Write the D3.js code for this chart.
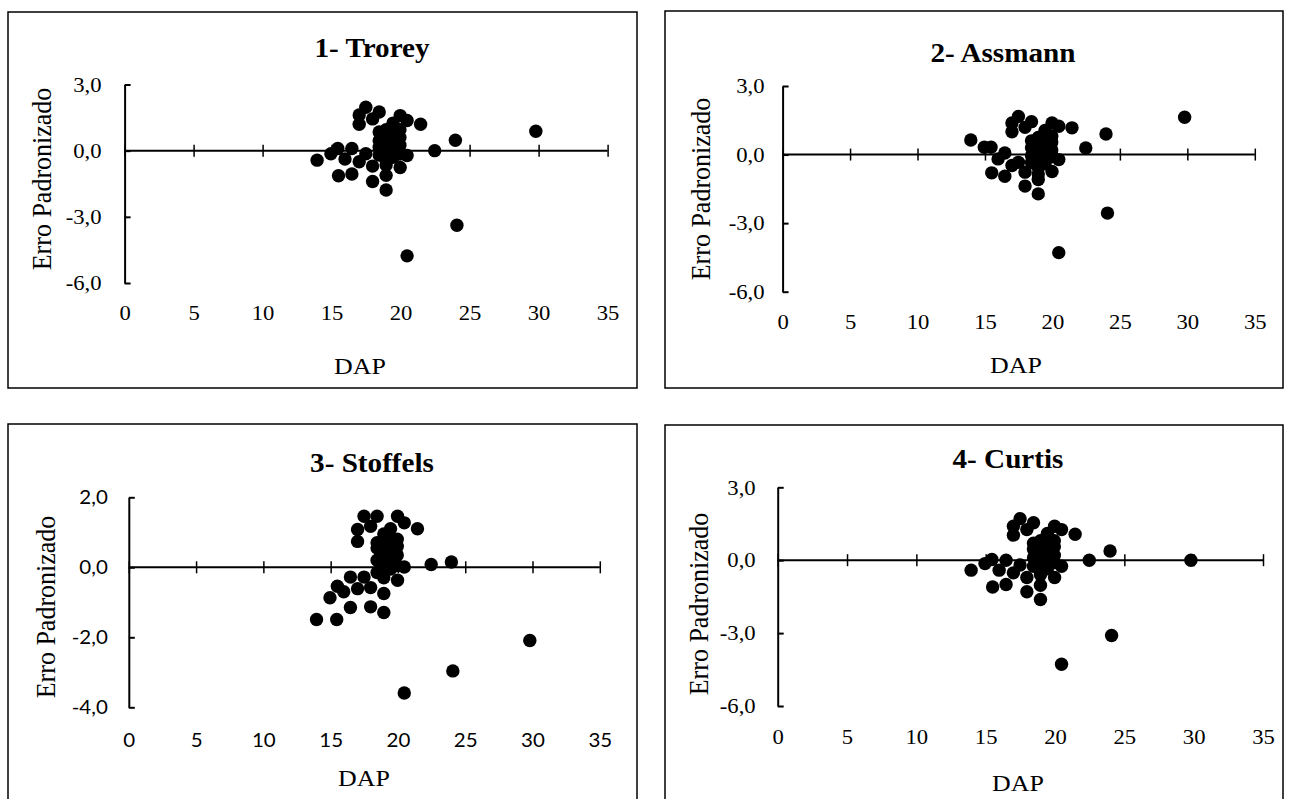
<!DOCTYPE html>
<html>
<head>
<meta charset="utf-8">
<script src="https://cdn.jsdelivr.net/npm/d3@7"></script>
<style>
  body { margin: 0; background: #fff; }
  svg { display: block; }
</style>
</head>
<body>
<div id="chart"></div>
<script>
// ---- data ----
const dap = [13.95, 14.95, 15.45, 15.5, 15.97, 16.47, 16.47, 17.0, 17.0, 17.0,
             17.48, 17.48, 17.97, 17.97, 17.97, 18.45, 18.95, 18.95, 19.97, 19.97,
             20.47, 20.47, 21.45, 22.47, 23.97, 24.08, 20.47, 29.8,
             18.45, 18.45, 18.45, 18.45, 18.95, 18.95, 18.95, 18.95, 18.95, 18.95,
             19.45, 19.45, 19.45, 19.45, 19.45, 19.95, 19.95, 19.95, 19.95, 19.2, 19.7];

const erroTrorey = [-0.43, -0.14, 0.1, -1.14, -0.38, 0.1, -1.06, 1.62, 1.2, -0.5,
                    1.97, -0.14, 1.44, -0.7, -1.4, 1.75, -1.12, -1.78, 1.59, -0.76,
                    1.37, -0.22, 1.2, 0.0, 0.47, -3.38, -4.77, 0.88,
                    0.85, 0.45, 0.15, -0.2, 0.95, 0.55, 0.25, 0.0, -0.45, -0.65,
                    1.25, 0.8, 0.4, 0.1, -0.3, 0.95, 0.6, 0.25, -0.15, 0.65, 0.3];

const erroAssmann = [0.64, 0.32, 0.32, -0.8, -0.19, 0.07, -0.95, 1.38, 1.0, -0.48,
                     1.67, -0.34, 1.19, -0.77, -1.38, 1.44, -1.09, -1.72, 1.38, -0.74,
                     1.24, -0.22, 1.17, 0.29, 0.9, -2.56, -4.29, 1.63,
                     0.6, 0.3, -0.05, -0.35, 0.75, 0.45, 0.1, -0.15, -0.55, -0.85,
                     1.05, 0.65, 0.3, 0.0, -0.4, 0.8, 0.55, 0.2, -0.1, 0.4, 0.15];

const erroStoffels = [-1.49, -0.87, -1.49, -0.54, -0.7, -0.28, -1.15, 1.08, 0.74, -0.61,
                      1.46, -0.28, 1.17, -0.58, -1.13, 1.46, -0.75, -1.29, 1.46, -0.37,
                      1.27, 0.01, 1.1, 0.08, 0.15, -2.96, -3.59, -2.09,
                      0.7, 0.55, 0.2, -0.15, 0.95, 0.6, 0.35, 0.1, -0.3, -0.05,
                      1.1, 0.75, 0.45, 0.2, -0.05, 0.8, 0.6, 0.35, 0.05, 0.55, 0.3];

const erroCurtis = [-0.41, -0.14, 0.03, -1.1, -0.41, 0.0, -1.0, 1.4, 1.03, -0.52,
                    1.71, -0.2, 1.26, -0.71, -1.3, 1.54, -1.03, -1.62, 1.4, -0.71,
                    1.26, -0.25, 1.07, 0.0, 0.38, -3.1, -4.28, 0.0,
                    0.7, 0.45, 0.1, -0.25, 0.8, 0.5, 0.2, -0.05, -0.5, -0.6,
                    1.1, 0.7, 0.35, 0.05, -0.35, 0.8, 0.55, 0.2, -0.1, 0.5, 0.15];

const titles = ["1- Trorey", "2- Assmann", "3- Stoffels", "4- Curtis"];
const xTicks = [0, 5, 10, 15, 20, 25, 30, 35];
const yTicks3 = [3, 0, -3, -6];
const yTicks2 = [2, 0, -2, -4];
const xLabel = "DAP";
const yLabel = "Erro Padronizado";

// ---- layout (pixels) ----
const serif = "'Liberation Serif', 'Times New Roman', serif";
const sans = "Lato, 'Open Sans', sans-serif";
const sx = 1.08; // the source picture is a little wider than tall

const panels = [
    {title: titles[0], values: erroTrorey, yTicks: yTicks3, box: [8, 12, 637, 388],
     xr: [124.6, 607.6], yr: [84.5, 283], titleAt: [372, 57], dapAt: [360, 374],
     ylabAt: [41, 179], gap: 23, xLabY: 320, tickFont: serif, tickSize: 21},
    {title: titles[1], values: erroAssmann, yTicks: yTicks3, box: [665, 11, 1283, 388],
     xr: [782.6, 1254.8], yr: [86, 291.7], titleAt: [1003, 62], dapAt: [1016, 373],
     ylabAt: [700, 189], gap: 18, xLabY: 329, tickFont: serif, tickSize: 21},
    {title: titles[2], values: erroStoffels, yTicks: yTicks2, box: [8, 424, 637, 805],
     xr: [128.8, 599.8], yr: [497.3, 707.3], titleAt: [372, 472], dapAt: [364, 786],
     ylabAt: [45, 607], gap: 21, xLabY: 747, tickFont: sans, tickSize: 19},
    {title: titles[3], values: erroCurtis, yTicks: yTicks3, box: [665, 425, 1283, 805],
     xr: [777.7, 1263], yr: [487.3, 706], titleAt: [1008, 468], dapAt: [1018, 791],
     ylabAt: [698, 604], gap: 22, xLabY: 744, tickFont: serif, tickSize: 21}
];

const br = d3.formatLocale({decimal: ",", thousands: ".", grouping: [3],
                            currency: ["R$", ""], minus: "-"});
const fmt = br.format(".1f");

const svg = d3.select("#chart").append("svg")
    .attr("width", 1291)
    .attr("height", 799);

panels.forEach(p => drawPanel(p));

function drawPanel(p) {
    const g = svg.append("g");

    // frame
    g.append("rect")
        .attr("x", p.box[0]).attr("y", p.box[1])
        .attr("width", p.box[2] - p.box[0]).attr("height", p.box[3] - p.box[1])
        .attr("fill", "none").attr("stroke", "#000").attr("stroke-width", 1.5);

    const x = d3.scaleLinear().domain([0, 35]).range(p.xr);
    const y = d3.scaleLinear()
        .domain([p.yTicks[0], p.yTicks[p.yTicks.length - 1]])
        .range(p.yr);

    // y axis, ticks pointing inward
    const yAxis = g.append("g")
        .attr("transform", `translate(${x(0)},0)`)
        .call(d3.axisLeft(y).tickValues(p.yTicks).tickFormat(fmt)
            .tickSizeInner(-6).tickSizeOuter(0).tickPadding(p.gap / sx));
    yAxis.select(".domain").attr("stroke-width", 2);
    yAxis.selectAll(".tick line").attr("stroke-width", 2);
    yAxis.selectAll("text")
        .attr("transform", `scale(${sx},1)`)
        .attr("x", -p.gap / sx)
        .style("font-family", p.tickFont)
        .style("font-size", p.tickSize + "px")
        .attr("fill", "#000");

    // horizontal axis line at zero with crossing ticks
    const cross = g.append("g")
        .attr("transform", `translate(0,${y(0) + 6})`)
        .call(d3.axisTop(x).tickValues(xTicks).tickFormat("").tickSize(12).tickSizeOuter(0));
    cross.select(".domain").remove();
    cross.selectAll(".tick line").attr("stroke-width", 1.5);
    g.append("line")
        .attr("x1", x(0)).attr("x2", x(35))
        .attr("y1", y(0)).attr("y2", y(0))
        .attr("stroke", "#000").attr("stroke-width", 2);

    // x tick labels at the bottom
    const xLab = g.append("g")
        .attr("transform", `translate(0,${p.xLabY})`)
        .call(d3.axisBottom(x).tickValues(xTicks).tickSize(0).tickPadding(0));
    xLab.select(".domain").remove();
    xLab.selectAll("text")
        .attr("y", 0).attr("dy", null)
        .attr("transform", `scale(${sx},1)`)
        .style("font-family", p.tickFont)
        .style("font-size", p.tickSize + "px")
        .attr("fill", "#000");

    // points
    g.append("g").selectAll("circle")
        .data(dap.map((d, i) => [d, p.values[i]]))
        .join("circle")
        .attr("cx", d => x(d[0]))
        .attr("cy", d => y(d[1]))
        .attr("r", 6.7)
        .attr("fill", "#000");

    // title
    g.append("text")
        .attr("transform", `translate(${p.titleAt[0]},${p.titleAt[1]}) scale(${sx},1)`)
        .attr("text-anchor", "middle")
        .style("font-family", serif)
        .style("font-weight", "bold")
        .style("font-size", "27px")
        .text(p.title);

    // axis titles
    g.append("text")
        .attr("transform", `translate(${p.dapAt[0]},${p.dapAt[1]}) scale(${sx},1)`)
        .attr("text-anchor", "middle")
        .style("font-family", serif)
        .style("font-size", "24px")
        .text(xLabel);

    g.append("text")
        .attr("transform", `translate(${p.ylabAt[0]},${p.ylabAt[1]}) scale(${sx},1) rotate(-90)`)
        .attr("text-anchor", "middle")
        .attr("dy", "0.35em")
        .style("font-family", serif)
        .style("font-size", "26px")
        .text(yLabel);
}
</script>
</body>
</html>
